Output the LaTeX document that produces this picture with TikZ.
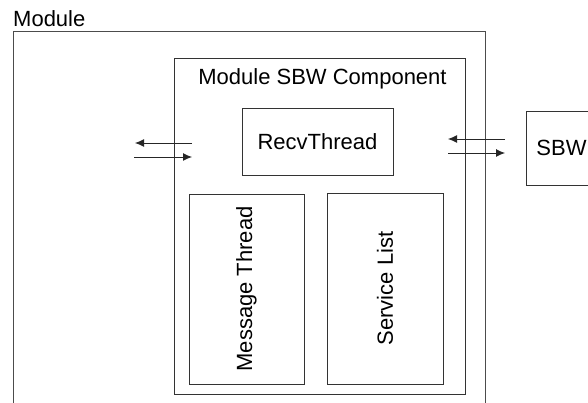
\documentclass[tikz,border=0pt]{standalone}
\usepackage{fontspec}
\setmainfont{Liberation Sans}
\usetikzlibrary{positioning,calc,arrows.meta}
\tikzset{
  basic/.style  = {draw=black!80, line width=0.8pt, rectangle, inner sep=0pt,
                   font=\fontsize{22}{26}\selectfont},
  title/.style  = {inner sep=0pt, font=\fontsize{22}{26}\selectfont},
  recv/.style   = {basic, minimum width=151pt, minimum height=67pt},
  thread/.style = {basic, minimum width=115pt, minimum height=190pt},
  peer/.style   = {basic, minimum height=74pt, text width=60pt, inner xsep=10pt,
                   align=left},
  link/.style   = {draw=black!85, line width=0.9pt}
}

\begin{document}
\begin{tikzpicture}[x=1pt, y=-1pt, >={Latex[length=9pt,width=8pt]}]
        \useasboundingbox (0,0) rectangle (588,403);
        % outer module frame, open at the bottom
        \coordinate (modbl) at (13,403);
        \coordinate (modtl) at (13,31);
        \coordinate (modtr) at (485,31);
        \coordinate (modbr) at (485,403);
        \draw[link, draw=black!70] (modbl) -- (modtl) -- (modtr) -- (modbr);
        \node[title, anchor=base west] (modname) at (13,27) {Module};
        % the component and its parts
        \node[basic, minimum width=291pt, minimum height=336pt] (comp) at (319.5,226) {};
        \node[title, anchor=base] (compname) at (322.5,85) {Module SBW Component};
        \node[recv] (rt) at (317.5,141.5) {RecvThread};
        \node[thread] (mt) at (246.5,289) {};
        \node[rotate=90, title] (mtname) at (mt.center) {Message Thread};
        \node[thread, minimum width=116pt, minimum height=191pt] (sl) at (385,288.5) {};
        \node[rotate=90, title] (slname) at (sl.center) {Service List};
        % the broker outside the module
        \node[peer, anchor=west] (sbw) at (526,148) {SBW};
        % message arrows on both sides
        \coordinate (in1l)  at (192,143);  \coordinate (out1l) at (135,143);
        \coordinate (in2l)  at (134,157);  \coordinate (out2l) at (192,157);
        \coordinate (in1r)  at (505,139);  \coordinate (out1r) at (448,139);
        \coordinate (in2r)  at (448,153);  \coordinate (out2r) at (505,153);
        \foreach \side in {l,r}
          \foreach \value in {1,2}
            \draw[link, ->] (in\value\side) -- (out\value\side);
      \end{tikzpicture}
\end{document}
